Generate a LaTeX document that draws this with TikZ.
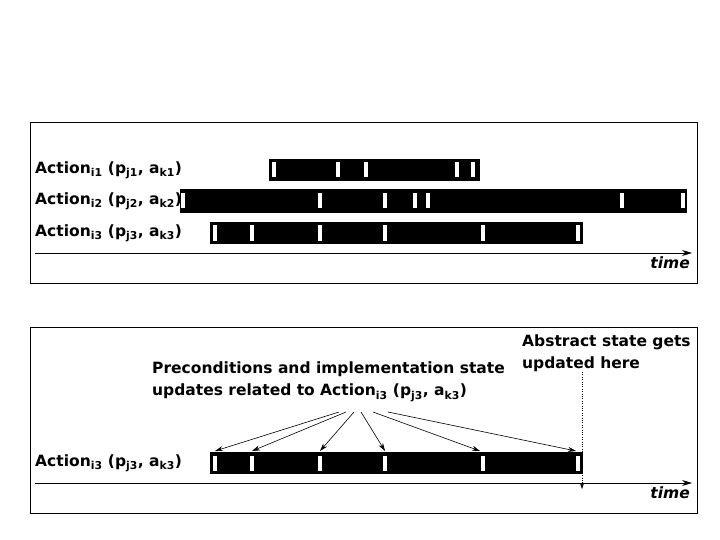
\documentclass[tikz,border=0pt]{standalone}
\usepackage{fontspec}
\setmainfont{DejaVu Sans}
\usetikzlibrary{positioning,arrows.meta}

\begin{document}
\begin{tikzpicture}[x=1pt,y=-1pt,%
  frame/.style={draw=black,thin},
  bar/.style={fill=black,draw=none},
  tick/.style={fill=white,draw=none,minimum width=3.5pt,minimum height=15pt,inner sep=0pt},
  lbl/.style={anchor=west,font=\bfseries\fontsize{15.5}{17}\selectfont,inner sep=0pt},
  desc/.style={anchor=north west,align=left,font=\bfseries\fontsize{15.5}{22}\selectfont,inner sep=0pt},
  axis/.style={thick,-{Stealth[length=10pt,width=6pt]}},
  tm/.style={anchor=north east,font=\bfseries\itshape\fontsize{15.5}{17}\selectfont,inner sep=0pt},
  upd/.style={-{Stealth[length=8pt,width=5pt]},semithick}
]
\useasboundingbox (0,0) rectangle (720,540);

% upper panel
\draw [frame] (30,122) rectangle (697,283);
\node [lbl] (a1) at (35,170) {Action$_{\mathbf{i1}}$ (p$_{\mathbf{j1}}$, a$_{\mathbf{k1}}$)};
\node [lbl] (a2) at (35,201) {Action$_{\mathbf{i2}}$ (p$_{\mathbf{j2}}$, a$_{\mathbf{k2}}$)};
\node [lbl] (a3) at (35,233) {Action$_{\mathbf{i3}}$ (p$_{\mathbf{j3}}$, a$_{\mathbf{k3}}$)};
\fill [bar] (269,159) rectangle (480,181);
\fill [bar] (180,189) rectangle (687,213);
\fill [bar] (210,222) rectangle (583,244);
\foreach \x in {274,338,366,457,473} \node [tick] at (\x,170) {};
\foreach \x in {183,320,385,415,428,622,683} \node [tick] at (\x,201) {};
\foreach \x in {215,252,320,385,483,578} \node [tick] at (\x,233) {};
\coordinate (t0) at (35,253);
\coordinate (t1) at (692,253);
\draw [axis] (t0) -- (t1);
\node [tm] (time1) at (690,257) {time};

% lower panel
\draw [frame] (30,327) rectangle (697,513);
\node [desc] (pre) at (152,362) {Preconditions and implementation state\\updates related to Action$_{\mathbf{i3}}$ (p$_{\mathbf{j3}}$, a$_{\mathbf{k3}}$)};
\node [desc] (abs) at (522,335) {Abstract state gets\\updated here};
\node [lbl] (a4) at (35,463) {Action$_{\mathbf{i3}}$ (p$_{\mathbf{j3}}$, a$_{\mathbf{k3}}$)};
\fill [bar] (210,452) rectangle (583,474);
\foreach \x [count=\i] in {215,252,320,385,483,578}
  \node [tick] (k\i) at (\x,463) {};
\foreach \sx/\i in {339/1,346/2,354/3,361/4,373/5,388/6}
  \coordinate (s\i) at (\sx,412);
\foreach \ex/\i in {215/1,252/2,320/3,385/4,480/5,576/6}
  \coordinate (e\i) at (\ex,451);
\foreach \i in {1,...,6}
  \draw [upd] (s\i) -- (e\i);
\coordinate (d0) at (582,372);
\coordinate (d1) at (582,489);
\draw [dotted,-{Stealth[length=6pt,width=4pt]}] (d0) -- (d1);
\coordinate (u0) at (35,483);
\coordinate (u1) at (692,483);
\draw [axis] (u0) -- (u1);
\node [tm] (time2) at (690,487) {time};
\end{tikzpicture}
\end{document}
